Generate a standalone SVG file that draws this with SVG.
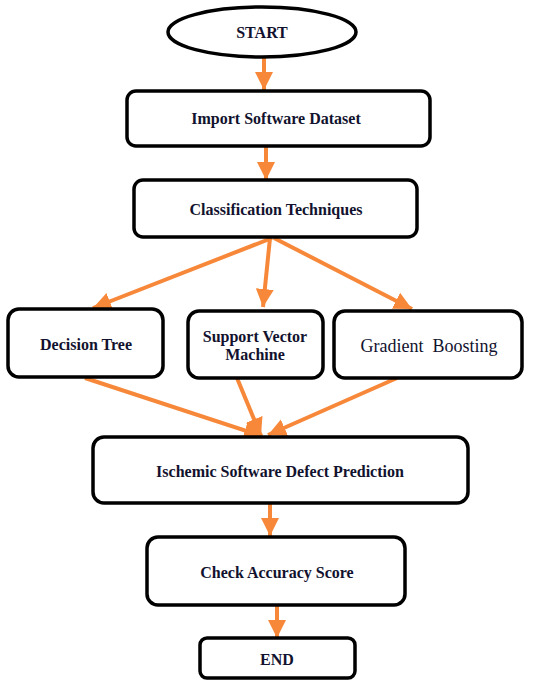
<svg xmlns="http://www.w3.org/2000/svg" width="545" height="681" viewBox="0 0 545 681">
<style>
.box{fill:#fff;stroke:#000;stroke-width:3.5}
.t{font-family:"Liberation Serif","Times New Roman",serif;font-weight:bold;font-size:16px;fill:#12122e;text-anchor:middle}
.tr{font-family:"Liberation Serif","Times New Roman",serif;font-size:18px;fill:#12122e;text-anchor:middle}
.c{stroke:#F7883A;stroke-width:4;fill:none;marker-end:url(#ah)}
</style>
<defs>
<marker id="ah" markerUnits="userSpaceOnUse" markerWidth="20" markerHeight="20" viewBox="0 0 20 20" refX="18" refY="10" orient="auto">
<path d="M0,1 L18,10 L0,19 Z" fill="#F7883A"/>
</marker>
</defs>
<rect width="545" height="681" fill="#fff"/>
<g id="connectors">
<line class="c" x1="264" y1="57" x2="264" y2="90"/>
<line class="c" x1="266" y1="146" x2="266" y2="180"/>
<line class="c" x1="272" y1="238" x2="93" y2="308"/>
<line class="c" x1="270" y1="238" x2="263" y2="307"/>
<line class="c" x1="274" y1="238" x2="412" y2="309"/>
<line class="c" x1="85" y1="378" x2="262" y2="436"/>
<line class="c" x1="237" y1="378" x2="261" y2="436"/>
<line class="c" x1="397" y1="378" x2="268" y2="435"/>
<line class="c" x1="270" y1="503" x2="270" y2="536"/>
<line class="c" x1="277" y1="606" x2="277" y2="638"/>
</g>
<g id="start">
<ellipse class="box" cx="262" cy="32" rx="94" ry="25"/>
<text class="t" x="262" y="38">START</text>
</g>
<g id="import">
<rect class="box" x="127" y="91" width="303" height="55" rx="9"/>
<text class="t" x="276" y="124">Import  Software Dataset</text>
</g>
<g id="classification">
<rect class="box" x="134" y="180" width="283" height="57" rx="9"/>
<text class="t" x="276" y="215">Classification Techniques</text>
</g>
<g id="dt">
<rect class="box" x="8" y="309" width="155" height="68" rx="11"/>
<text class="t" x="86" y="350">Decision Tree</text>
</g>
<g id="svm">
<rect class="box" x="188" y="311" width="135" height="67" rx="11"/>
<text class="t" x="255" y="342">Support Vector</text>
<text class="t" x="255" y="360">Machine</text>
</g>
<g id="gb">
<rect class="box" x="334" y="311" width="188" height="67" rx="11"/>
<text class="tr" x="429" y="352" xml:space="preserve">Gradient  Boosting</text>
</g>
<g id="ischemic">
<rect class="box" x="93" y="437" width="375" height="66" rx="11"/>
<text class="t" x="280" y="477">Ischemic Software Defect Prediction</text>
</g>
<g id="check">
<rect class="box" x="147" y="537" width="258" height="68" rx="11"/>
<text class="t" x="277" y="578">Check Accuracy  Score</text>
</g>
<g id="end">
<rect class="box" x="200" y="638" width="155" height="40" rx="7"/>
<text class="t" x="277" y="665">END</text>
</g>
</svg>
